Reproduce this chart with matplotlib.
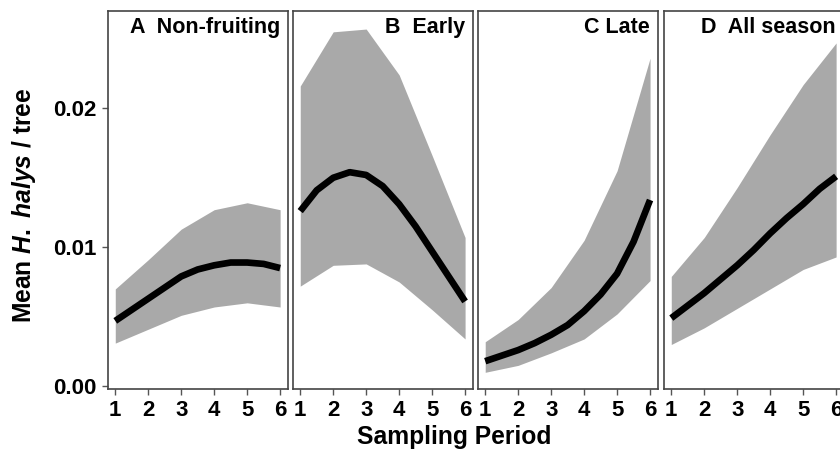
import matplotlib
matplotlib.use("Agg")
import matplotlib.pyplot as plt
import numpy as np

plt.rcParams['font.family'] = ['Liberation Sans', 'DejaVu Sans']
plt.rcParams['font.weight'] = 'bold'
plt.rcParams['mathtext.fontset'] = 'custom'
plt.rcParams['mathtext.rm'] = 'Liberation Sans:bold'
plt.rcParams['mathtext.it'] = 'Liberation Sans:italic:bold'

# sampling periods (band vertices) and curve points
periods = [1, 2, 3, 4, 5, 6]
curve_x = [1, 1.5, 2, 2.5, 3, 3.5, 4, 4.5, 5, 5.5, 6]

titles = ["A  Non-fruiting", "B  Early", "C Late", "D  All season"]

# A - non-fruiting
upper_a = [0.0070, 0.0091, 0.0113, 0.0127, 0.0132, 0.0127]
lower_a = [0.0031, 0.0041, 0.0051, 0.0057, 0.0060, 0.0057]
mean_a = [0.0047, 0.0055, 0.0063, 0.0071, 0.0079, 0.0084, 0.0087, 0.0089, 0.0089, 0.0088, 0.0085]

# B - early
upper_b = [0.0216, 0.0255, 0.0257, 0.0224, 0.0166, 0.0107]
lower_b = [0.0072, 0.0087, 0.0088, 0.0075, 0.0055, 0.0034]
mean_b = [0.0126, 0.0141, 0.0150, 0.0154, 0.0152, 0.0144, 0.0131, 0.0115, 0.0097, 0.0079, 0.0061]

# C - late
upper_c = [0.0032, 0.0048, 0.0071, 0.0105, 0.0155, 0.0236]
lower_c = [0.0010, 0.0015, 0.0024, 0.0034, 0.0052, 0.0076]
mean_c = [0.0018, 0.0022, 0.0026, 0.0031, 0.0037, 0.0044, 0.0054, 0.0066, 0.0081, 0.0104, 0.0134]

# D - all season
upper_d = [0.0079, 0.0107, 0.0143, 0.0181, 0.0217, 0.0247]
lower_d = [0.0030, 0.0042, 0.0056, 0.0070, 0.0084, 0.0093]
mean_d = [0.0049, 0.0058, 0.0067, 0.0077, 0.0087, 0.0098, 0.0110, 0.0121, 0.0131, 0.0142, 0.0151]

uppers = [upper_a, upper_b, upper_c, upper_d]
lowers = [lower_a, lower_b, lower_c, lower_d]
means = [mean_a, mean_b, mean_c, mean_d]

fig = plt.figure(figsize=(8.4, 4.54), dpi=100)
lefts = [0.1286, 0.3488, 0.5690, 0.7905]
for i in range(4):
    ax = fig.add_axes([lefts[i], 0.1432, 0.2143, 0.8326])
    ax.fill_between(periods, lowers[i], uppers[i], color='#a9a9a9', linewidth=0)
    ax.plot(curve_x, means[i], color='black', linewidth=4.8,
            solid_capstyle='butt', solid_joinstyle='round')
    ax.set_xlim(0.78, 6.24)
    ax.set_ylim(-0.0002, 0.027)
    ax.set_xticks(periods)
    ax.set_yticks([0.0, 0.01, 0.02])
    ax.set_yticklabels(["0.00", "0.01", "0.02"])
    ax.tick_params(axis='both', labelsize=16, length=4, width=1, color='#555555', pad=4)
    if i > 0:
        ax.tick_params(axis='y', left=False, labelleft=False)
    for s in ax.spines.values():
        s.set_color('#444444')
        s.set_linewidth(1.2)
    ax.text(0.955, 0.985, titles[i], transform=ax.transAxes, ha='right', va='top',
            fontsize=15.5, fontweight='bold')

fig.text(0.541, 0.037, "Sampling Period", ha='center', va='center', fontsize=17.7, fontweight='bold')
fig.text(0.028, 0.548, r"Mean $H.$ $halys$ / tree", ha='center', va='center', rotation=90,
         fontsize=17.7, fontweight='bold')

fig.savefig("out.png", dpi=100)
